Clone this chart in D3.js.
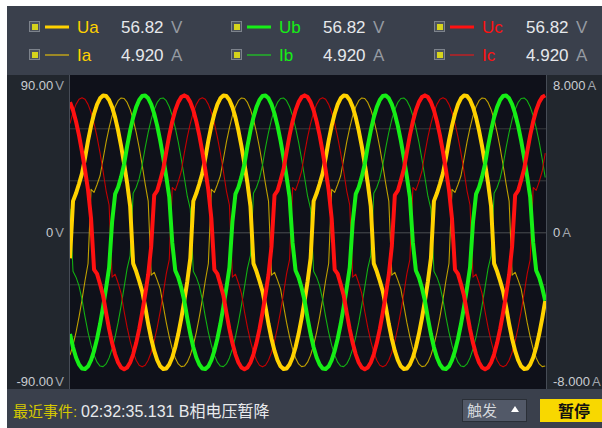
<!DOCTYPE html>
<html>
<head>
<meta charset="utf-8">
<script src="https://cdn.jsdelivr.net/npm/d3@7"></script>
<style>
  html, body { margin: 0; padding: 0; background: #ffffff; }
  svg { display: block; font-family: "Liberation Sans", Arial, sans-serif; }
</style>
</head>
<body>
<svg id="chart" width="602" height="428"></svg>
<script>
// ---- sampled waveforms (0.5 ms per sample) ----
const sampleStepMs = 0.5;

// phase voltages, V
const ua = [
  -15.0, 18.0, 22.5, 28.0, 34.0, 43.0, 52.9, 61.4, 68.4, 73.8, 77.3, 78.9, 78.6, 76.3, 72.2, 66.3, 58.7, 49.7, 39.5, 28.3,
  15.0, -18.0, -22.5, -28.0, -34.0, -43.0, -52.9, -61.4, -68.4, -73.8, -77.3, -78.9, -78.6, -76.3, -72.2, -66.3, -58.7, -49.7, -39.5, -28.3,
  -15.0, 18.0, 22.5, 28.0, 34.0, 43.0, 52.9, 61.4, 68.4, 73.8, 77.3, 78.9, 78.6, 76.3, 72.2, 66.3, 58.7, 49.7, 39.5, 28.3,
  15.0, -18.0, -22.5, -28.0, -34.0, -43.0, -52.9, -61.4, -68.4, -73.8, -77.3, -78.9, -78.6, -76.3, -72.2, -66.3, -58.7, -49.7, -39.5, -28.3,
  -15.0, 18.0, 22.5, 28.0, 34.0, 43.0, 52.9, 61.4, 68.4, 73.8, 77.3, 78.9, 78.6, 76.3, 72.2, 66.3, 58.7, 49.7, 39.5, 28.3,
  15.0, -18.0, -22.5, -28.0, -34.0, -43.0, -52.9, -61.4, -68.4, -73.8, -77.3, -78.9, -78.6, -76.3, -72.2, -66.3, -58.7, -49.7, -39.5, -28.3,
  -15.0, 18.0, 22.5, 28.0, 34.0, 43.0, 52.9, 61.4, 68.4, 73.8, 77.3, 78.9, 78.6, 76.3, 72.2, 66.3, 58.7, 49.7, 39.5, 28.3,
  15.0, -18.0, -22.5, -28.0, -34.0, -43.0, -52.9, -61.4, -68.4, -73.8, -77.3, -78.9, -78.6, -76.3, -72.2, -66.3, -58.7, -49.7, -39.5
];
const ub = [
  -58.7, -66.3, -72.2, -76.3, -78.6, -78.9, -77.3, -73.8, -68.4, -61.4, -52.9, -43.0, -32.1, -20.4, 6.0, 22.0, 26.0, 32.0, 39.5, 49.7,
  58.7, 66.3, 72.2, 76.3, 78.6, 78.9, 77.3, 73.8, 68.4, 61.4, 52.9, 43.0, 32.1, 20.4, -6.0, -22.0, -26.0, -32.0, -39.5, -49.7,
  -58.7, -66.3, -72.2, -76.3, -78.6, -78.9, -77.3, -73.8, -68.4, -61.4, -52.9, -43.0, -32.1, -20.4, 6.0, 22.0, 26.0, 32.0, 39.5, 49.7,
  58.7, 66.3, 72.2, 76.3, 78.6, 78.9, 77.3, 73.8, 68.4, 61.4, 52.9, 43.0, 32.1, 20.4, -6.0, -22.0, -26.0, -32.0, -39.5, -49.7,
  -58.7, -66.3, -72.2, -76.3, -78.6, -78.9, -77.3, -73.8, -68.4, -61.4, -52.9, -43.0, -32.1, -20.4, 6.0, 22.0, 26.0, 32.0, 39.5, 49.7,
  58.7, 66.3, 72.2, 76.3, 78.6, 78.9, 77.3, 73.8, 68.4, 61.4, 52.9, 43.0, 32.1, 20.4, -6.0, -22.0, -26.0, -32.0, -39.5, -49.7,
  -58.7, -66.3, -72.2, -76.3, -78.6, -78.9, -77.3, -73.8, -68.4, -61.4, -52.9, -43.0, -32.1, -20.4, 6.0, 22.0, 26.0, 32.0, 39.5, 49.7,
  58.7, 66.3, 72.2, 76.3, 78.6, 78.9, 77.3, 73.8, 68.4, 61.4, 52.9, 43.0, 32.1, 20.4, -6.0, -22.0, -26.0, -32.0, -39.5
];
const uc = [
  75.1, 70.4, 63.9, 55.9, 46.4, 35.9, 24.4, 8.0, -21.5, -24.0, -30.0, -36.5, -46.4, -55.9, -63.9, -70.4, -75.1, -78.0, -79.0, -78.0,
  -75.1, -70.4, -63.9, -55.9, -46.4, -35.9, -24.4, -8.0, 21.5, 24.0, 30.0, 36.5, 46.4, 55.9, 63.9, 70.4, 75.1, 78.0, 79.0, 78.0,
  75.1, 70.4, 63.9, 55.9, 46.4, 35.9, 24.4, 8.0, -21.5, -24.0, -30.0, -36.5, -46.4, -55.9, -63.9, -70.4, -75.1, -78.0, -79.0, -78.0,
  -75.1, -70.4, -63.9, -55.9, -46.4, -35.9, -24.4, -8.0, 21.5, 24.0, 30.0, 36.5, 46.4, 55.9, 63.9, 70.4, 75.1, 78.0, 79.0, 78.0,
  75.1, 70.4, 63.9, 55.9, 46.4, 35.9, 24.4, 8.0, -21.5, -24.0, -30.0, -36.5, -46.4, -55.9, -63.9, -70.4, -75.1, -78.0, -79.0, -78.0,
  -75.1, -70.4, -63.9, -55.9, -46.4, -35.9, -24.4, -8.0, 21.5, 24.0, 30.0, 36.5, 46.4, 55.9, 63.9, 70.4, 75.1, 78.0, 79.0, 78.0,
  75.1, 70.4, 63.9, 55.9, 46.4, 35.9, 24.4, 8.0, -21.5, -24.0, -30.0, -36.5, -46.4, -55.9, -63.9, -70.4, -75.1, -78.0, -79.0, -78.0,
  -75.1, -70.4, -63.9, -55.9, -46.4, -35.9, -24.4, -8.0, 21.5, 24.0, 30.0, 36.5, 46.4, 55.9, 63.9, 70.4, 75.1, 78.0, 79.0
];

// phase currents, A
const ia = [
  -6.30, -5.79, -5.13, -4.34, -3.45, -2.47, -1.60, 2.20, 2.05, 2.45, 2.90, 3.76, 4.62, 5.36, 5.98, 6.44, 6.75, 6.89, 6.86, 6.66,
  6.30, 5.79, 5.13, 4.34, 3.45, 2.47, 1.60, -2.20, -2.05, -2.45, -2.90, -3.76, -4.62, -5.36, -5.98, -6.44, -6.75, -6.89, -6.86, -6.66,
  -6.30, -5.79, -5.13, -4.34, -3.45, -2.47, -1.60, 2.20, 2.05, 2.45, 2.90, 3.76, 4.62, 5.36, 5.98, 6.44, 6.75, 6.89, 6.86, 6.66,
  6.30, 5.79, 5.13, 4.34, 3.45, 2.47, 1.60, -2.20, -2.05, -2.45, -2.90, -3.76, -4.62, -5.36, -5.98, -6.44, -6.75, -6.89, -6.86, -6.66,
  -6.30, -5.79, -5.13, -4.34, -3.45, -2.47, -1.60, 2.20, 2.05, 2.45, 2.90, 3.76, 4.62, 5.36, 5.98, 6.44, 6.75, 6.89, 6.86, 6.66,
  6.30, 5.79, 5.13, 4.34, 3.45, 2.47, 1.60, -2.20, -2.05, -2.45, -2.90, -3.76, -4.62, -5.36, -5.98, -6.44, -6.75, -6.89, -6.86, -6.66,
  -6.30, -5.79, -5.13, -4.34, -3.45, -2.47, -1.60, 2.20, 2.05, 2.45, 2.90, 3.76, 4.62, 5.36, 5.98, 6.44, 6.75, 6.89, 6.86, 6.66,
  6.30, 5.79, 5.13, 4.34, 3.45, 2.47, 1.60, -2.20, -2.05, -2.45, -2.90, -3.76, -4.62, -5.36, -5.98, -6.44, -6.75, -6.89, -6.86
];
const ib = [
  1.20, -2.00, -2.30, -2.75, -3.45, -4.34, -5.13, -5.79, -6.30, -6.66, -6.86, -6.89, -6.75, -6.44, -5.98, -5.36, -4.62, -3.76, -2.81, -1.85,
  -1.20, 2.00, 2.30, 2.75, 3.45, 4.34, 5.13, 5.79, 6.30, 6.66, 6.86, 6.89, 6.75, 6.44, 5.98, 5.36, 4.62, 3.76, 2.81, 1.85,
  1.20, -2.00, -2.30, -2.75, -3.45, -4.34, -5.13, -5.79, -6.30, -6.66, -6.86, -6.89, -6.75, -6.44, -5.98, -5.36, -4.62, -3.76, -2.81, -1.85,
  -1.20, 2.00, 2.30, 2.75, 3.45, 4.34, 5.13, 5.79, 6.30, 6.66, 6.86, 6.89, 6.75, 6.44, 5.98, 5.36, 4.62, 3.76, 2.81, 1.85,
  1.20, -2.00, -2.30, -2.75, -3.45, -4.34, -5.13, -5.79, -6.30, -6.66, -6.86, -6.89, -6.75, -6.44, -5.98, -5.36, -4.62, -3.76, -2.81, -1.85,
  -1.20, 2.00, 2.30, 2.75, 3.45, 4.34, 5.13, 5.79, 6.30, 6.66, 6.86, 6.89, 6.75, 6.44, 5.98, 5.36, 4.62, 3.76, 2.81, 1.85,
  1.20, -2.00, -2.30, -2.75, -3.45, -4.34, -5.13, -5.79, -6.30, -6.66, -6.86, -6.89, -6.75, -6.44, -5.98, -5.36, -4.62, -3.76, -2.81, -1.85,
  -1.20, 2.00, 2.30, 2.75, 3.45, 4.34, 5.13, 5.79, 6.30, 6.66, 6.86, 6.89, 6.75, 6.44, 5.98, 5.36, 4.62, 3.76, 2.81
];
const ic = [
  5.58, 6.15, 6.56, 6.82, 6.90, 6.82, 6.56, 6.15, 5.58, 4.88, 4.06, 3.13, 2.13, 1.40, -2.30, -2.15, -2.60, -3.13, -4.06, -4.88,
  -5.58, -6.15, -6.56, -6.82, -6.90, -6.82, -6.56, -6.15, -5.58, -4.88, -4.06, -3.13, -2.13, -1.40, 2.30, 2.15, 2.60, 3.13, 4.06, 4.88,
  5.58, 6.15, 6.56, 6.82, 6.90, 6.82, 6.56, 6.15, 5.58, 4.88, 4.06, 3.13, 2.13, 1.40, -2.30, -2.15, -2.60, -3.13, -4.06, -4.88,
  -5.58, -6.15, -6.56, -6.82, -6.90, -6.82, -6.56, -6.15, -5.58, -4.88, -4.06, -3.13, -2.13, -1.40, 2.30, 2.15, 2.60, 3.13, 4.06, 4.88,
  5.58, 6.15, 6.56, 6.82, 6.90, 6.82, 6.56, 6.15, 5.58, 4.88, 4.06, 3.13, 2.13, 1.40, -2.30, -2.15, -2.60, -3.13, -4.06, -4.88,
  -5.58, -6.15, -6.56, -6.82, -6.90, -6.82, -6.56, -6.15, -5.58, -4.88, -4.06, -3.13, -2.13, -1.40, 2.30, 2.15, 2.60, 3.13, 4.06, 4.88,
  5.58, 6.15, 6.56, 6.82, 6.90, 6.82, 6.56, 6.15, 5.58, 4.88, 4.06, 3.13, 2.13, 1.40, -2.30, -2.15, -2.60, -3.13, -4.06, -4.88,
  -5.58, -6.15, -6.56, -6.82, -6.90, -6.82, -6.56, -6.15, -5.58, -4.88, -4.06, -3.13, -2.13, -1.40, 2.30, 2.15, 2.60, 3.13, 4.06
];

// ---- legend / readout text ----
const voltageNames = ["Ua", "Ub", "Uc"];
const currentNames = ["Ia", "Ib", "Ic"];
const voltageReadings = ["56.82", "56.82", "56.82"];
const currentReadings = ["4.920", "4.920", "4.920"];
const voltageUnit = "V";
const currentUnit = "A";

// ---- axis ticks ----
const voltageTicks = [90, 0, -90];
const currentTicks = [8, 0, -8];
const gridValues = [60, 30, 0, -30, -60];

// ---- status bar ----
const eventLabel = "最近事件:";
const eventText = "02:32:35.131 B相电压暂降";
const triggerLabel = "触发";
const pauseLabel = "暂停";

// ---- styles ----
const phaseColors = ["#ffd200", "#16ee16", "#ff1111"];
const currentColors = ["#bfa000", "#12b012", "#c40000"];

const W = 602, H = 428;
const plot = { left: 70, right: 546, top: 76.3, bottom: 388.3 };

const svg = d3.select("#chart");

// frame
svg.append("rect").attr("x", 0).attr("y", 0).attr("width", W).attr("height", H).attr("fill", "#ffffff");
svg.append("rect").attr("x", 7).attr("y", 6).attr("width", W - 7).attr("height", H - 6).attr("fill", "#3a404c");
// side panels
svg.append("rect").attr("x", 7).attr("y", 75).attr("width", plot.left - 7).attr("height", 314).attr("fill", "#22272e");
svg.append("rect").attr("x", plot.right).attr("y", 75).attr("width", W - plot.right).attr("height", 314).attr("fill", "#22272e");
// plot background
svg.append("rect").attr("x", plot.left).attr("y", 75).attr("width", plot.right - plot.left).attr("height", 314).attr("fill", "#0f111a");
svg.append("line").attr("x1", plot.left - 0.5).attr("x2", plot.left - 0.5).attr("y1", 75).attr("y2", 389)
  .attr("stroke", "#464c56").attr("stroke-width", 1);
svg.append("line").attr("x1", plot.right + 0.5).attr("x2", plot.right + 0.5).attr("y1", 75).attr("y2", 389)
  .attr("stroke", "#464c56").attr("stroke-width", 1);

// scales
const x = d3.scaleLinear().domain([0, 79.13]).range([plot.left, plot.right]);
const yV = d3.scaleLinear().domain([-90, 90]).range([plot.bottom, plot.top]);
const yA = d3.scaleLinear().domain([-8, 8]).range([plot.bottom, plot.top]);

const fmtLocale = d3.formatLocale({ decimal: ".", thousands: ",", grouping: [3], currency: ["", ""], minus: "-" });
const fmtV = d => d === 0 ? "0" : fmtLocale.format(".2f")(d);
const fmtA = d => d === 0 ? "0" : fmtLocale.format(".3f")(d);

// grid
const grid = svg.append("g").attr("transform", `translate(${plot.left},0)`)
  .call(d3.axisLeft(yV).tickValues(gridValues).tickSize(-(plot.right - plot.left)).tickFormat(""));
grid.select(".domain").remove();
grid.selectAll(".tick line").attr("stroke", d => d === 0 ? "#4a4d52" : "#37393d").attr("stroke-width", 1);

// clip
svg.append("clipPath").attr("id", "plotClip").append("rect")
  .attr("x", plot.left).attr("y", plot.top).attr("width", plot.right - plot.left).attr("height", plot.bottom - plot.top);

const traces = svg.append("g").attr("clip-path", "url(#plotClip)");
const tOf = i => i * sampleStepMs;
const lineV = d3.line().x((d, i) => x(tOf(i))).y(d => yV(d));
const lineA = d3.line().x((d, i) => x(tOf(i))).y(d => yA(d));

[ia, ib, ic].forEach((s, k) => {
  traces.append("path").datum(s).attr("d", lineA).attr("fill", "none")
    .attr("stroke", currentColors[k]).attr("stroke-width", 1.1).attr("stroke-linejoin", "round");
});
[ua, ub, uc].forEach((s, k) => {
  traces.append("path").datum(s).attr("d", lineV).attr("fill", "none")
    .attr("stroke", phaseColors[k]).attr("stroke-width", 4).attr("stroke-linejoin", "round");
});

// axis labels
function unitLabels(sel, unit, ticks) {
  sel.select(".domain").remove();
  sel.selectAll(".tick line").remove();
  sel.selectAll(".tick text")
    .attr("fill", "#c9ccd1").attr("font-size", 13)
    .attr("dy", d => d === ticks[0] ? "1.0em" : (d === ticks[2] ? "-0.18em" : "0.32em"))
    .each(function () {
      d3.select(this).append("tspan").attr("dx", 2).attr("fill", "#a0a5ac").text(unit);
    });
}
const leftAxis = svg.append("g").attr("transform", "translate(64,0)")
  .call(d3.axisLeft(yV).tickValues(voltageTicks).tickSize(0).tickPadding(0).tickFormat(fmtV));
leftAxis.attr("font-family", null).attr("font-size", null);
unitLabels(leftAxis, voltageUnit, voltageTicks);

const rightAxis = svg.append("g").attr("transform", "translate(553,0)")
  .call(d3.axisRight(yA).tickValues(currentTicks).tickSize(0).tickPadding(0).tickFormat(fmtA));
rightAxis.attr("font-family", null).attr("font-size", null);
unitLabels(rightAxis, currentUnit, currentTicks);

// legend readouts
const groupX = [29, 231, 434];
const rows = [
  { names: voltageNames, values: voltageReadings, unit: voltageUnit, cy: 27, width: 3 },
  { names: currentNames, values: currentReadings, unit: currentUnit, cy: 55, width: 1 }
];
rows.forEach(row => {
  groupX.forEach((gx, k) => {
    const g = svg.append("g");
    g.append("rect").attr("x", gx + 0.5).attr("y", row.cy - 5.5).attr("width", 10).attr("height", 10)
      .attr("fill", "#4d535d").attr("stroke", "#7d838c").attr("stroke-width", 1);
    g.append("rect").attr("x", gx + 3).attr("y", row.cy - 3).attr("width", 6).attr("height", 6).attr("fill", "#d6d41c");
    g.append("line").attr("x1", gx + 16).attr("x2", gx + 40).attr("y1", row.cy).attr("y2", row.cy)
      .attr("stroke", phaseColors[k]).attr("stroke-width", row.width);
    g.append("text").attr("x", gx + 48).attr("y", row.cy + 6).attr("font-size", 17)
      .attr("fill", phaseColors[k]).text(row.names[k]);
    g.append("text").attr("x", gx + 92).attr("y", row.cy + 6).attr("font-size", 17)
      .attr("fill", "#e6e8eb").text(row.values[k]);
    g.append("text").attr("x", gx + 142).attr("y", row.cy + 6).attr("font-size", 17)
      .attr("fill", "#959aa1").text(row.unit);
  });
});

// status bar
const cjk = "'Liberation Sans', 'Noto Sans CJK SC', sans-serif";
svg.append("text").attr("x", 13).attr("y", 416.5).attr("font-size", 15).attr("font-family", cjk)
  .attr("fill", "#d6c900").text(eventLabel);
svg.append("text").attr("x", 81).attr("y", 416.5).attr("font-size", 16).attr("font-family", cjk)
  .attr("fill", "#e8eaed").text(eventText);

svg.append("rect").attr("x", 462.5).attr("y", 399.5).attr("width", 64).attr("height", 22)
  .attr("fill", "#525968").attr("stroke", "#2a2f37").attr("stroke-width", 1);
svg.append("text").attr("x", 467).attr("y", 416).attr("font-size", 15).attr("font-family", cjk)
  .attr("fill", "#d4d7dc").text(triggerLabel);
svg.append("path").attr("d", "M511,412 L515,406 L519,412 Z").attr("fill", "#ffffff");

svg.append("rect").attr("x", 540).attr("y", 399).attr("width", 62).attr("height", 23).attr("fill", "#f8d800");
svg.append("text").attr("x", 558).attr("y", 417).attr("font-size", 16).attr("font-weight", "bold")
  .attr("font-family", cjk).attr("fill", "#111111").text(pauseLabel);
</script>
</body>
</html>
